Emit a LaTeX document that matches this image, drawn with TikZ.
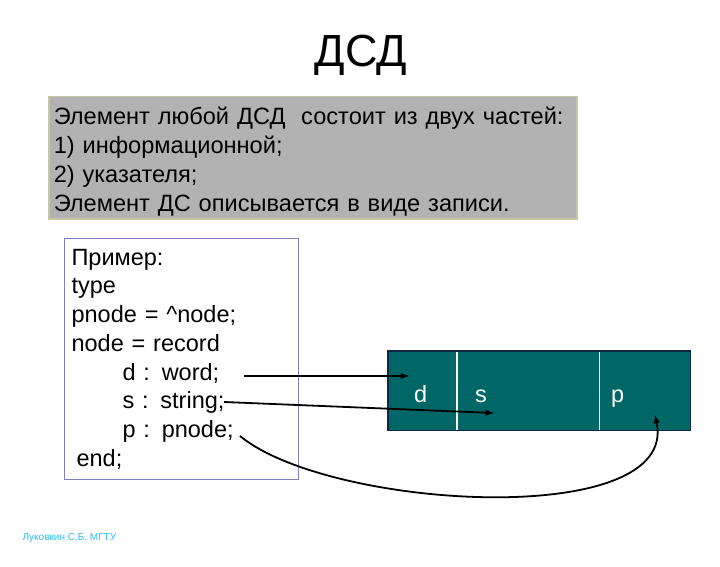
\documentclass[tikz,border=0pt]{standalone}
\usepackage{fontspec}
\setmainfont{Liberation Sans}
\usepackage{tikz}
\usetikzlibrary{positioning}

\definecolor{boxgray}{RGB}{178,178,178}
\definecolor{boxrim}{RGB}{200,200,160}
\definecolor{coderim}{RGB}{128,128,192}
\definecolor{recteal}{RGB}{0,102,102}
\definecolor{recrim}{RGB}{16,40,70}
\definecolor{footcyan}{RGB}{40,190,250}

\tikzset{
  infobox/.style={draw=boxrim,line width=1.5pt,fill=boxgray,anchor=north west,
    minimum width=528pt,minimum height=122pt,text width=518pt,align=left,
    inner xsep=5pt,inner ysep=1pt,font=\fontsize{23.6}{29}\selectfont},
  codebox/.style={draw=coderim,line width=1.2pt,fill=white,anchor=north west,
    minimum width=234pt,minimum height=241pt,text width=220pt,align=left,
    inner xsep=7pt,font=\fontsize{23.5}{28.7}\selectfont},
  cell/.style={draw=white,line width=0.6pt,fill=recteal,minimum height=79pt,inner sep=0pt},
  lbl/.style={text=white,font=\fontsize{23.5}{26}\selectfont,anchor=base west,inner sep=0pt},
  ptr/.style={->,>=latex,line width=1.8pt}
}

\begin{document}
\begin{tikzpicture}[x=1pt,y=-1pt]
  \useasboundingbox (0,0) rectangle (720,567);

  \node (title) at (361,55) {\fontsize{45}{50}\selectfont ДСД};

  \node[infobox] (info) at (48,96) {\rule{0pt}{26pt}Элемент любой ДСД\ \ состоит из двух частей:\\
    1) информационной;\\
    2) указателя;\\
    Элемент ДС описывается в виде записи.};

  \node[codebox] (code) at (64,238) {Пример:\\
    type\\
    pnode = \^{}node;\\
    node = record\\
    \hspace*{51pt}d : word;\\
    \hspace*{51pt}s : string;\\
    \hspace*{51pt}p : pnode;\\
    \hspace*{5pt}end;};

  % record d | s | p
  \node[cell,minimum width=68pt,anchor=north west] (dcell) at (388,351) {};
  \node[cell,minimum width=142pt,right=0pt of dcell] (scell) {};
  \node[cell,minimum width=91pt,right=0pt of scell] (pcell) {};
  \draw[recrim,line width=1.2pt] (dcell.north west) rectangle (pcell.south east);

  \node[lbl] (dlbl) at (414,402) {d};
  \node[lbl] (slbl) at (475,402) {s};
  \node[lbl] (plbl) at (611,402) {p};

  \coordinate (dfrom) at (244,376);
  \coordinate (sfrom) at (224,402);
  \coordinate (pfrom) at (240,436);
  \coordinate (dto) at (409,376);
  \coordinate (sto) at (494,413);
  \coordinate (pto) at (655,415);

  \draw[ptr] (dfrom) -- (dto);
  \draw[ptr] (sfrom) -- (sto);
  \draw[ptr] (pfrom) .. controls (330,510) and (680,530) .. (pto);

  \node[anchor=west,text=footcyan,font=\fontsize{10}{11}\selectfont] (foot) at (19,538) {Луковкин С.Б. МГТУ};
\end{tikzpicture}
\end{document}
